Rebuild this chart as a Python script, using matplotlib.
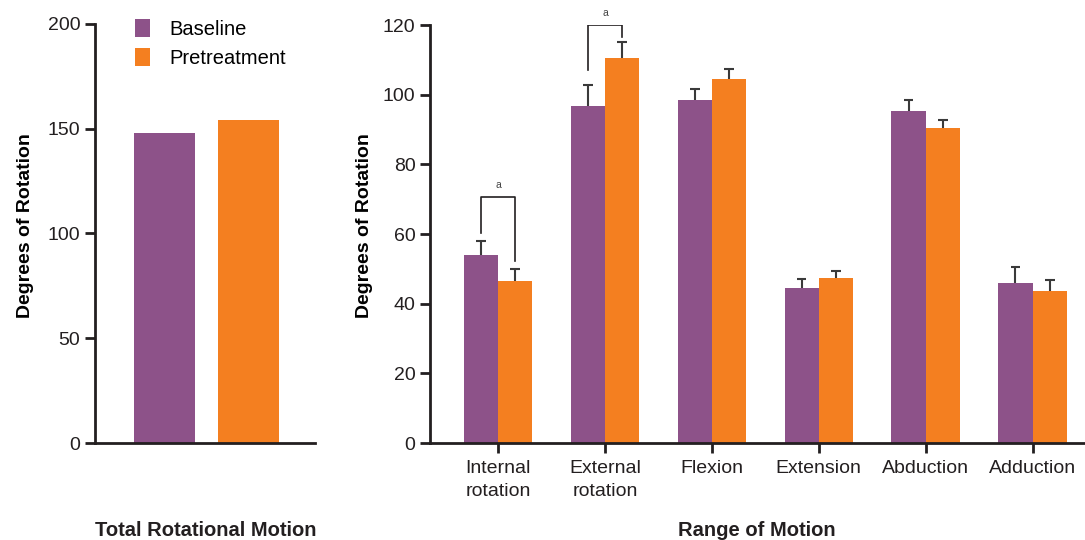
import matplotlib
matplotlib.use('Agg')
import matplotlib.pyplot as plt
import numpy as np

plt.rcParams['font.family'] = ['Liberation Sans', 'DejaVu Sans']

PURPLE = '#8d5289'
ORANGE = '#f47f20'
DARK = '#231f20'

series = ['Baseline', 'Pretreatment']

# total rotational motion
total = [148.0, 154.2]

# range of motion
motions = ['Internal\nrotation', 'External\nrotation', 'Flexion', 'Extension', 'Abduction', 'Adduction']
baseline = [54.0, 96.8, 98.5, 44.5, 95.3, 45.9]
baseline_err = [4.0, 6.0, 3.1, 2.7, 3.2, 4.5]
pretreat = [46.5, 110.5, 104.5, 47.4, 90.4, 43.6]
pretreat_err = [3.5, 4.6, 2.9, 2.1, 2.2, 3.2]

# significance brackets: (category index, top, left leg bottom, right leg bottom)
brackets = [(0, 70.6, 60.3, 52.3), (1, 120.0, 107.1, 116.6)]


def style_axis(ax):
    for side in ['top', 'right']:
        ax.spines[side].set_visible(False)
    for side in ['left', 'bottom']:
        ax.spines[side].set_linewidth(2)
        ax.spines[side].set_color(DARK)
    ax.tick_params(axis='both', colors=DARK, width=2, length=7, labelsize=14, labelcolor=DARK)


def upper_errors(ax, xs, tops, errs):
    for x, t, e in zip(xs, tops, errs):
        ax.vlines(x, t, t + e, color='#3a3a3a', lw=1.5, zorder=3)
        ax.hlines(t + e, x - 0.045, x + 0.045, color='#3a3a3a', lw=1.5, zorder=3)


fig = plt.figure(figsize=(10.85, 5.4), dpi=100)

# left panel
ax1 = fig.add_axes([0.0876, 0.1796, 0.2028, 0.776])
w1 = 0.726
b1 = ax1.bar([0], [total[0]], w1, color=PURPLE, label=series[0])
b2 = ax1.bar([1], [total[1]], w1, color=ORANGE, label=series[1])
ax1.set_xlim(-0.827, 1.79)
ax1.set_ylim(0, 200)
ax1.set_yticks([0, 50, 100, 150, 200])
ax1.set_xticks([])
style_axis(ax1)
ax1.set_ylabel('Degrees of Rotation', fontsize=14, fontweight='bold', labelpad=10)
ax1.yaxis.label.set_y(0.52)
ax1.legend(handles=[b1, b2], loc='upper left', bbox_to_anchor=(0.1, 1.054), frameon=False,
           fontsize=14.5, handlelength=0.75, handleheight=1.0, handletextpad=0.95, labelspacing=0.45)

# right panel
ax2 = fig.add_axes([0.3963, 0.1796, 0.6037, 0.7741])
x = np.arange(len(motions))
w = 0.32
ax2.bar(x - w / 2, baseline, w, color=PURPLE, zorder=2)
ax2.bar(x + w / 2, pretreat, w, color=ORANGE, zorder=2)
upper_errors(ax2, x - w / 2, baseline, baseline_err)
upper_errors(ax2, x + w / 2, pretreat, pretreat_err)

for i, top, lb, rb in brackets:
    xl, xr = i - w / 2, i + w / 2
    ax2.plot([xl, xl, xr, xr], [lb, top, top, rb], color=DARK, lw=1.2, zorder=3)
    ax2.text(i, top + 2, 'a', ha='center', va='bottom', fontsize=7.5, color='#444444')

ax2.set_xlim(-0.636, 5.49)
ax2.set_ylim(0, 120)
ax2.set_yticks(np.arange(0, 121, 20))
ax2.set_xticks(x)
ax2.set_xticklabels(motions, linespacing=1.45)
ax2.tick_params(axis='x', pad=5)
style_axis(ax2)
ax2.set_ylabel('Degrees of Rotation', fontsize=14, fontweight='bold', labelpad=7)
ax2.yaxis.label.set_y(0.52)

fig.text(206 / 1085, 1 - 531 / 540, 'Total Rotational Motion', ha='center', va='center',
         fontsize=14.5, fontweight='bold', color=DARK)
fig.text(757 / 1085, 1 - 531 / 540, 'Range of Motion', ha='center', va='center',
         fontsize=14.5, fontweight='bold', color=DARK)

fig.savefig('out.png', dpi=100)
